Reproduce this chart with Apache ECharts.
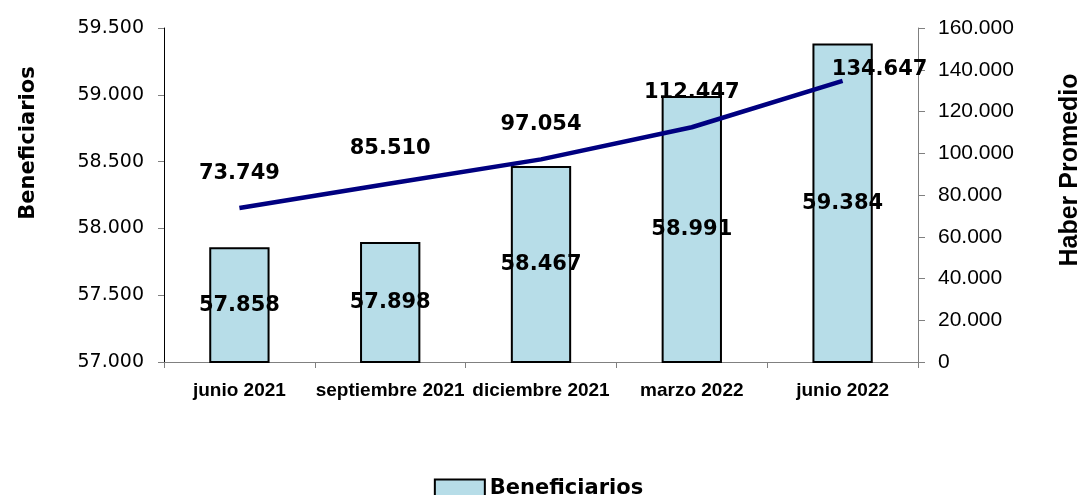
<!DOCTYPE html>
<html>
<head>
<meta charset="utf-8">
<script src="https://cdn.jsdelivr.net/npm/echarts@6/dist/echarts.min.js"></script>
<style>
  html, body { margin: 0; padding: 0; background: #fff; }
  #chart { width: 1077px; height: 495px; }
</style>
</head>
<body>
<div id="chart"></div>
<script>
// datos
var categorias = ['junio 2021', 'septiembre 2021', 'diciembre 2021', 'marzo 2022', 'junio 2022'];
var beneficiarios = [57858, 57898, 58467, 58991, 59384];
var haberPromedio = [73749, 85510, 97054, 112447, 134647];

// formato con punto de miles
function miles(v) {
  return String(Math.round(v)).replace(/\B(?=(\d{3})+(?!\d))/g, '.');
}

var labelFont = { fontFamily: 'DejaVu Sans', fontWeight: 'bold', fontSize: 21, color: '#000' };

var lineData = haberPromedio.map(function (v, i) {
  var item = { value: v };
  // la ultima etiqueta esta corrida a la derecha en el original
  if (i === haberPromedio.length - 1) item.label = { offset: [37, 23] };
  return item;
});

var myChart = echarts.init(document.getElementById('chart'));
var option = {
  animation: false,
  grid: { left: 164, right: 159, top: 28, bottom: 133, outerBoundsMode: 'none', containLabel: false },
  legend: {
    data: ['Beneficiarios'],
    bottom: -9,
    left: 'center',
    icon: 'rect',
    itemWidth: 50,
    itemHeight: 18,
    itemGap: 8,
    itemStyle: { borderColor: '#000', borderWidth: 2 },
    textStyle: { fontFamily: 'DejaVu Sans', fontWeight: 'bold', fontSize: 21, color: '#000' }
  },
  xAxis: {
    type: 'category',
    data: categorias,
    axisLine: { lineStyle: { color: '#808080', width: 1 } },
    axisTick: { show: true, length: 6, alignWithLabel: false, lineStyle: { color: '#808080' } },
    axisLabel: {
      margin: 19,
      interval: 0,
      fontFamily: 'Liberation Sans', fontWeight: 'bold', fontSize: 19, color: '#000'
    }
  },
  yAxis: [
    {
      type: 'value',
      name: 'Beneficiarios',
      nameLocation: 'middle',
      nameRotate: 90,
      nameGap: 125,
      nameTextStyle: { fontFamily: 'DejaVu Sans', fontWeight: 'bold', fontSize: 21, color: '#000', padding: [0, 0, 0, 104] },
      min: 57000,
      max: 59500,
      interval: 500,
      axisLine: { show: true, lineStyle: { color: '#000' } },
      axisTick: { show: true, length: 6, lineStyle: { color: '#808080' } },
      splitLine: { show: false },
      axisLabel: {
        margin: 20,
        fontFamily: 'DejaVu Sans', fontSize: 19, color: '#000',
        formatter: function (v) { return miles(v); }
      }
    },
    {
      type: 'value',
      name: 'Haber Promedio',
      nameLocation: 'middle',
      nameRotate: 90,
      nameGap: 140,
      nameTextStyle: { fontFamily: 'Liberation Sans', fontWeight: 'bold', fontSize: 25, color: '#000', padding: [0, 0, 0, 50] },
      position: 'right',
      min: 0,
      max: 160000,
      interval: 20000,
      axisLine: { show: true, lineStyle: { color: '#808080' } },
      axisTick: { show: true, length: 7, lineStyle: { color: '#808080' } },
      splitLine: { show: false },
      axisLabel: {
        margin: 20,
        fontFamily: 'Liberation Sans', fontSize: 21, color: '#000',
        formatter: function (v) { return miles(v); }
      }
    }
  ],
  series: [
    {
      name: 'Beneficiarios',
      type: 'bar',
      yAxisIndex: 0,
      barWidth: '40%',
      itemStyle: { color: '#B7DDE8', borderColor: '#000', borderWidth: 2 },
      label: Object.assign({ show: true, position: 'inside', formatter: function (p) { return miles(p.value); } }, labelFont),
      data: beneficiarios
    },
    {
      name: 'Haber Promedio',
      type: 'line',
      yAxisIndex: 1,
      symbol: 'circle',
      symbolSize: 0,
      showSymbol: true,
      lineStyle: { color: '#000080', width: 4.5 },
      itemStyle: { color: '#000080' },
      label: Object.assign({ show: true, position: 'top', distance: 24, formatter: function (p) { return miles(p.value); } }, labelFont),
      data: lineData
    }
  ]
};
myChart.setOption(option);
</script>
</body>
</html>
